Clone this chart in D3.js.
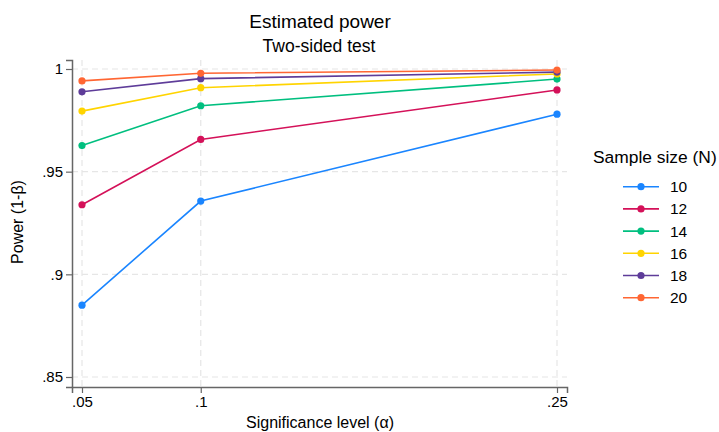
<!DOCTYPE html>
<html><head><meta charset="utf-8">
<script src="https://cdn.jsdelivr.net/npm/d3@7"></script>
<style>body{margin:0;background:#fff;}svg{display:block;font-family:"Liberation Sans",Arial,sans-serif;}</style>
</head><body><svg id="c" width="719" height="432"></svg>
<script>
const alphas = [0.05, 0.1, 0.25];
const xTicks = [0.05, 0.1, 0.25];
const xTickLabels = [".05", ".1", ".25"];
const yTicks = [0.85, 0.9, 0.95, 1];
const yTickLabels = [".85", ".9", ".95", "1"];
const sampleSizes = ["10", "12", "14", "16", "18", "20"];
const power10 = [0.885, 0.9357, 0.978];
const power12 = [0.9339, 0.9657, 0.9898];
const power14 = [0.9627, 0.9821, 0.9951];
const power16 = [0.9795, 0.9909, 0.9976];
const power18 = [0.9889, 0.9953, 0.9985];
const power20 = [0.9942, 0.9979, 0.9995];
const colors = ["#1a85ff", "#d41159", "#00bf7f", "#ffd400", "#5e3c99", "#ff6633"];

const seriesValues = [power10, power12, power14, power16, power18, power20];
const series = sampleSizes.map((n, i) => ({n, color: colors[i], values: alphas.map((a, j) => ({a, p: seriesValues[i][j]}))}));

const svg = d3.select("#c");
const L = 72, R = 567, T = 60, B = 387;
const x = d3.scaleLinear().domain([0.05 - 10/2375, 0.25 + 10/2375]).range([L, R]);
const y = d3.scaleLinear().domain([0.85 - 10/2053, 1 + 9/2053]).range([B, T]);

// grid
const grid = svg.append("g").attr("stroke", "#e6e6e6").attr("stroke-width", 1.2).attr("stroke-dasharray", "6,4");
grid.selectAll("line.h").data(yTicks).join("line").attr("x1", L).attr("x2", R).attr("y1", d => y(d)).attr("y2", d => y(d));
grid.selectAll("line.v").data(xTicks).join("line").attr("y1", T).attr("y2", B).attr("x1", d => x(d)).attr("x2", d => x(d));

// axes
const ya = svg.append("g").attr("transform", `translate(${L},0)`)
  .call(d3.axisLeft(y).tickValues(yTicks).tickFormat((d, i) => yTickLabels[i]).tickSize(6).tickPadding(3));
const xa = svg.append("g").attr("transform", `translate(0,${B})`)
  .call(d3.axisBottom(x).tickValues(xTicks).tickFormat((d, i) => xTickLabels[i]).tickSize(6).tickPadding(3));
[ya, xa].forEach(g => {
  g.select(".domain").attr("stroke", "#666").attr("stroke-width", 1.5);
  g.selectAll(".tick line").attr("stroke", "#666").attr("stroke-width", 1.2);
  g.selectAll(".tick text").attr("font-size", 15).attr("fill", "#000").attr("font-family", "Liberation Sans, Arial, sans-serif");
});

// lines
const line = d3.line().x(d => x(d.a)).y(d => y(d.p));
const sg = svg.append("g");
series.forEach(s => {
  sg.append("path").datum(s.values).attr("d", line).attr("fill", "none").attr("stroke", s.color).attr("stroke-width", 1.6);
});
series.forEach(s => {
  sg.selectAll(null).data(s.values).join("circle").attr("cx", d => x(d.a)).attr("cy", d => y(d.p)).attr("r", 3.6).attr("fill", s.color);
});

// titles
svg.append("text").attr("x", 320).attr("y", 28).attr("text-anchor", "middle").attr("font-size", 19).text("Estimated power");
svg.append("text").attr("x", 319).attr("y", 51.5).attr("text-anchor", "middle").attr("font-size", 17.5).text("Two-sided test");
svg.append("text").attr("x", 320).attr("y", 428).attr("text-anchor", "middle").attr("font-size", 16).text("Significance level (α)");
svg.append("text").attr("transform", "translate(23,222) rotate(-90)").attr("text-anchor", "middle").attr("font-size", 16).text("Power (1-β)");

// legend
const lg = svg.append("g");
lg.append("text").attr("x", 593).attr("y", 163).attr("font-size", 17.4).text("Sample size (N)");
series.forEach((s, i) => {
  const yy = 186.7 + i * 22.2;
  lg.append("line").attr("x1", 623).attr("x2", 659).attr("y1", yy).attr("y2", yy).attr("stroke", s.color).attr("stroke-width", 1.6);
  lg.append("circle").attr("cx", 641).attr("cy", yy).attr("r", 3.6).attr("fill", s.color);
  lg.append("text").attr("x", 670).attr("y", yy + 5.5).attr("font-size", 15.5).text(s.n);
});
</script></body></html>
